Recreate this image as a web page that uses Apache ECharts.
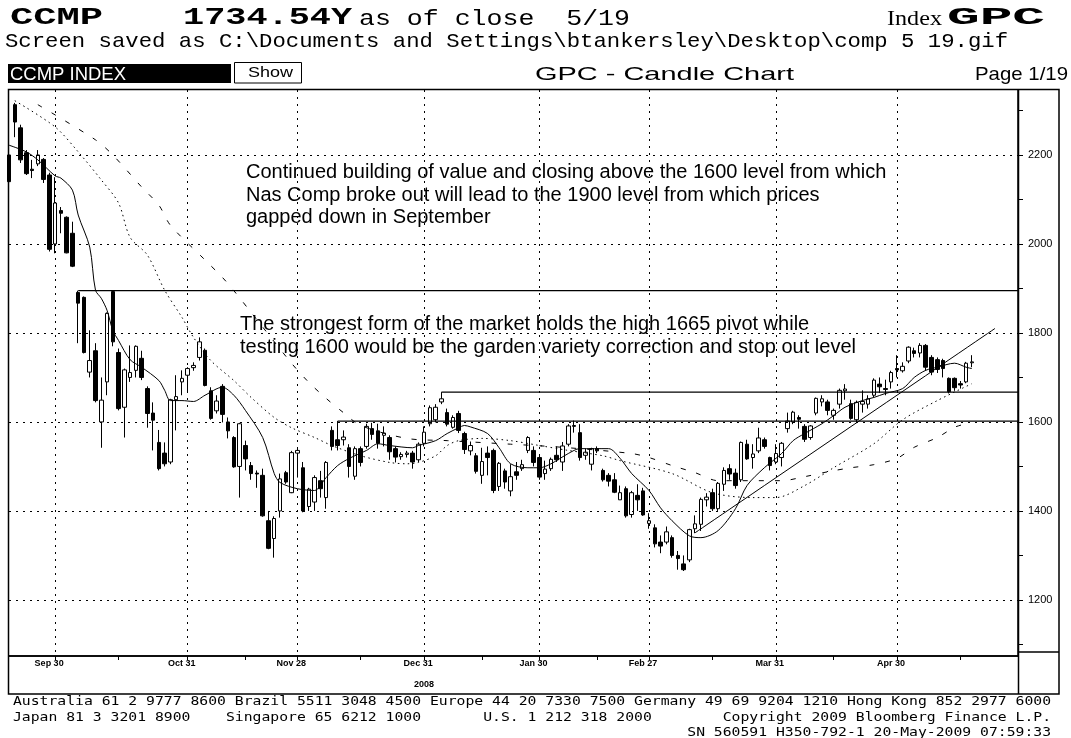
<!DOCTYPE html>
<html><head><meta charset="utf-8">
<script src="https://cdn.jsdelivr.net/npm/echarts@6.0.0/dist/echarts.min.js"></script>
<style>html,body{margin:0;padding:0;background:#fff}#c{width:1071px;height:738px}</style>
</head><body><div id="c"></div>
<script>
// ---------- DATA ----------
const dates = ['09/18','09/19','09/22','09/23','09/24','09/25','09/26','09/29','09/30',
'10/01','10/02','10/03','10/06','10/07','10/08','10/09','10/10','10/13','10/14','10/15','10/16','10/17','10/20','10/21','10/22','10/23','10/24','10/27','10/28','10/29','10/30','10/31',
'11/03','11/04','11/05','11/06','11/07','11/10','11/11','11/12','11/13','11/14','11/17','11/18','11/19','11/20','11/21','11/24','11/25','11/26','11/28',
'12/01','12/02','12/03','12/04','12/05','12/08','12/09','12/10','12/11','12/12','12/15','12/16','12/17','12/18','12/19','12/22','12/23','12/24','12/26','12/29','12/30','12/31',
'01/02','01/05','01/06','01/07','01/08','01/09','01/12','01/13','01/14','01/15','01/16','01/20','01/21','01/22','01/23','01/26','01/27','01/28','01/29','01/30',
'02/02','02/03','02/04','02/05','02/06','02/09','02/10','02/11','02/12','02/13','02/17','02/18','02/19','02/20','02/23','02/24','02/25','02/26','02/27',
'03/02','03/03','03/04','03/05','03/06','03/09','03/10','03/11','03/12','03/13','03/16','03/17','03/18','03/19','03/20','03/23','03/24','03/25','03/26','03/27','03/30','03/31',
'04/01','04/02','04/03','04/06','04/07','04/08','04/09','04/13','04/14','04/15','04/16','04/17','04/20','04/21','04/22','04/23','04/24','04/27','04/28','04/29','04/30',
'05/01','05/04','05/05','05/06','05/07','05/08','05/11','05/12','05/13','05/14','05/15','05/18','05/19'];
const futureDates = ['05/20','05/21','05/22','05/26','05/27','05/28','05/29','06/01'];

const opens = [2200,2313,2261,2205,2168,2180,2190,2155,2000,2075,
2060,2024,1891,1880,1712,1760,1600,1690,1893,1756,
1633,1700,1716,1743,1675,1620,1554,1530,1510,1650,
1690,1705,1722,1745,1761,1670,1625,1680,1600,1565,
1500,1547,1502,1485,1480,1378,1338,1400,1486,1441,
1530,1497,1410,1420,1468,1430,1581,1560,1560,1542,
1478,1540,1545,1585,1580,1570,1565,1540,1522,1527,
1530,1515,1552,1596,1605,1645,1621,1588,1619,1574,
1535,1524,1480,1530,1536,1455,1490,1445,1488,1495,
1536,1536,1520,1484,1495,1525,1510,1550,1590,1576,
1525,1505,1540,1491,1480,1470,1425,1450,1392,1435,
1445,1372,1362,1330,1330,1340,1300,1281,1290,1360,
1370,1425,1441,1405,1460,1495,1485,1470,1550,1520,
1535,1560,1520,1510,1520,1585,1600,1610,1590,1565,
1620,1645,1645,1615,1640,1670,1641,1605,1640,1640,
1660,1685,1675,1690,1720,1715,1737,1760,1755,1772,
1745,1740,1738,1698,1698,1686,1690,1733];
const closes = [2140,2274,2189,2158,2165,2200,2145,1988,2092,2069,
1980,1950,1867,1756,1738,1648,1649,1844,1780,1630,
1717,1711,1770,1700,1619,1604,1495,1506,1650,1657,
1698,1720,1727,1780,1682,1608,1647,1617,1580,1499,
1596,1517,1484,1483,1389,1316,1383,1472,1465,1531,
1536,1400,1449,1475,1450,1509,1545,1547,1566,1500,
1540,1509,1590,1572,1552,1575,1533,1521,1527,1530,
1510,1550,1577,1632,1633,1652,1595,1610,1581,1538,
1547,1489,1511,1520,1446,1507,1465,1477,1480,1504,
1565,1509,1476,1494,1516,1515,1546,1591,1592,1520,
1532,1540,1535,1470,1467,1442,1441,1389,1441,1425,
1391,1378,1326,1321,1353,1300,1293,1268,1358,1371,
1426,1431,1405,1462,1491,1483,1457,1554,1517,1528,
1564,1545,1502,1529,1552,1602,1622,1606,1561,1591,
1653,1652,1626,1626,1671,1674,1608,1644,1646,1652,
1694,1679,1673,1711,1717,1725,1768,1754,1772,1723,
1712,1718,1720,1668,1677,1683,1732,1735];
const lows = [2130,2240,2182,2155,2148,2175,2137,1983,1979,2024,
1979,1948,1777,1754,1700,1644,1542,1660,1770,1626,
1565,1690,1700,1694,1587,1536,1491,1500,1505,1581,
1660,1666,1715,1738,1680,1605,1619,1599,1563,1497,
1430,1491,1470,1452,1387,1314,1295,1385,1461,1440,
1475,1397,1400,1400,1430,1405,1536,1536,1547,1475,
1470,1500,1540,1560,1540,1545,1515,1509,1515,1520,
1495,1510,1545,1590,1599,1640,1590,1585,1575,1528,
1525,1484,1461,1480,1440,1445,1450,1433,1470,1490,
1530,1500,1470,1470,1490,1510,1490,1545,1576,1513,
1515,1491,1530,1466,1455,1440,1425,1385,1385,1400,
1389,1360,1318,1305,1325,1295,1268,1265,1285,1350,
1355,1410,1400,1400,1445,1470,1450,1465,1515,1495,
1530,1540,1491,1505,1500,1576,1595,1585,1555,1560,
1615,1635,1615,1605,1630,1650,1605,1600,1621,1630,
1655,1665,1660,1675,1700,1711,1732,1745,1745,1715,
1705,1710,1700,1664,1670,1675,1687,1723];
const highs = [2205,2317,2268,2211,2189,2211,2193,2160,2150,2083,
2062,2050,1895,1882,1806,1777,1700,1846,1895,1765,
1720,1772,1772,1760,1680,1644,1582,1554,1652,1705,
1716,1723,1734,1790,1765,1678,1660,1685,1610,1568,
1598,1558,1510,1491,1495,1400,1388,1484,1490,1535,
1540,1510,1452,1480,1490,1512,1590,1602,1581,1550,
1545,1545,1596,1598,1596,1590,1570,1545,1532,1535,
1535,1554,1590,1637,1640,1667,1630,1615,1625,1578,
1556,1530,1542,1545,1540,1510,1495,1505,1510,1515,
1568,1545,1525,1513,1520,1545,1555,1595,1603,1595,
1540,1542,1545,1495,1485,1485,1457,1455,1445,1460,
1452,1395,1370,1345,1365,1345,1310,1300,1360,1390,
1430,1440,1450,1465,1498,1505,1495,1556,1560,1550,
1587,1565,1522,1550,1555,1621,1625,1615,1595,1593,
1655,1660,1650,1630,1675,1685,1650,1648,1671,1660,
1698,1700,1695,1715,1750,1734,1770,1767,1777,1775,
1750,1745,1742,1700,1700,1692,1735,1750];

// moving averages: [day index, value]
const maShort = [[0,2222],[3,2207],[5,2189],[8,2153],[9,2148],[11,2121],[12,2065],[14,1993],[15,1896],[16,1878],[17,1851],[18,1806],[19,1783],[21,1740],[23,1723],[26,1693],[27,1671],[28,1648],[30,1648],[32,1646],[34,1660],[37,1678],[39,1660],[41,1626],[44,1565],[46,1484],[47,1464],[50,1450],[53,1446],[55,1475],[57,1502],[59,1518],[62,1536],[64,1551],[66,1547],[70,1542],[71,1547],[74,1558],[76,1574],[78,1587],[79,1592],[80,1589],[83,1574],[85,1542],[87,1506],[90,1497],[92,1497],[94,1506],[97,1529],[99,1540],[104,1540],[106,1518],[108,1484],[111,1446],[113,1407],[115,1378],[118,1344],[120,1340],[123,1356],[126,1405],[128,1457],[131,1497],[134,1529],[136,1558],[138,1574],[141,1596],[143,1614],[145,1633],[148,1648],[150,1655],[152,1664],[155,1675],[157,1700],[159,1716],[161,1723],[164,1732],[166,1723],[167,1720]];
const maMid = [[1,2322],[8,2263],[12,2207],[16,2144],[19,2092],[21,2015],[24,1975],[27,1896],[30,1835],[32,1790],[35,1738],[39,1693],[42,1655],[46,1610],[49,1587],[53,1565],[56,1547],[61,1524],[66,1509],[69,1506],[71,1509],[74,1524],[76,1547],[78,1558],[82,1563],[87,1558],[92,1547],[97,1536],[103,1524],[106,1513],[115,1484],[122,1441],[129,1430],[133,1430],[138,1457],[143,1497],[150,1551],[155,1605],[161,1648],[167,1686]];
const maLong = [[5,2313],[15,2234],[18,2200],[23,2128],[26,2087],[28,2042],[34,1964],[37,1925],[39,1895],[42,1846],[49,1732],[52,1689],[55,1653],[58,1621],[61,1592],[69,1563],[76,1558],[87,1550],[96,1543],[108,1529],[111,1520],[115,1502],[119,1486],[123,1468],[134,1468],[138,1477],[142,1488],[146,1497],[150,1504],[154,1518],[157,1543],[161,1565],[164,1588],[166,1596]];

// drawn support/resistance levels and trend line
const levelValues = [1895, 1667, 1602];
const levelStartIdx = [12, 75, 57];
const trendIdx = [119, 171];
const trendVals = [1351, 1810];

// axis ticks
const yTickLabels = [1200,1400,1600,1800,2000,2200];
const yMinorTicks = [1100,1200,1300,1400,1500,1600,1700,1800,1900,2000,2100,2200,2300];
const xMajorIdx = [8,31,50,72,92,111,133,154];
const xMajorText = ['Sep 30','Oct 31','Nov 28','Dec 31','Jan 30','Feb 27','Mar 31','Apr 30'];
const xMinorIdx = [19,41,61,82,102,122,143,165];

// ---------- BUILD ----------
const categories = dates.concat(futureDates);
const lastIdx = categories.length - 1;
const labelMap = new Map(xMajorIdx.map((k, j) => [k, xMajorText[j]]));
const tickSet = new Set(xMajorIdx.concat(xMinorIdx));
const candleData = dates.map((d, i) => [opens[i], closes[i], lows[i], highs[i]]);

const mc = document.createElement('canvas').getContext('2d');
function fit(text, font, w) { mc.font = font; return w / mc.measureText(text).width; }
function txt(text, left, baseline, font, width, fill) {
  const fs = parseFloat(font.match(/([\d.]+)px/)[1]);
  return { type: 'text', x: left, y: baseline - 0.32 * fs, scaleX: width ? fit(text, font, width) : 1, silent: true, z: 100,
    style: { text: text, x: 0, y: 0, font: font, fill: fill || '#000', align: 'left', verticalAlign: 'middle' } };
}
const MONO = '"Liberation Mono", "DejaVu Sans Mono", monospace';
const SANS = '"Liberation Sans", Arial, sans-serif';
const FOOT = '"DejaVu Sans Mono", "Liberation Mono", monospace';

const annFs = 18 * fit('testing 1600 would be the garden variety correction and stop out level', '18px ' + SANS, 616);
const annFont = annFs.toFixed(2) + 'px ' + SANS;
const footFont = '13px ' + FOOT;
const foot1 = 'Australia 61 2 9777 8600 Brazil 5511 3048 4500 Europe 44 20 7330 7500 Germany 49 69 9204 1210 Hong Kong 852 2977 6000';
const foot2 = 'Japan 81 3 3201 8900    Singapore 65 6212 1000       U.S. 1 212 318 2000        Copyright 2009 Bloomberg Finance L.P.';
const foot3 = '                                                                            SN 560591 H350-792-1 20-May-2009 07:59:33';
const footScale = fit(foot1, footFont, 1038);

function line(x1, y1, x2, y2, w) {
  return { type: 'line', silent: true, z: 90, shape: { x1, y1, x2, y2 }, style: { stroke: '#000', lineWidth: w || 1.5 } };
}
const ft = (t, b) => { const o = txt(t, 13, b, footFont); o.scaleX = footScale; return o; };

const graphics = [
  // header
  txt('CCMP', 10, 26, 'bold 24px ' + MONO, 93),
  txt('1734.54Y', 183, 26, 'bold 24px ' + MONO, 169),
  txt('as of close  5/19', 359, 26, '22px ' + MONO, 271),
  txt('Index', 887, 26, '22px "Liberation Serif", serif', 55),
  txt('GPC', 947, 26, 'bold 24px ' + MONO, 98),
  txt('Screen saved as C:\\Documents and Settings\\btankersley\\Desktop\\comp 5 19.gif', 5, 48.5, '21px ' + MONO, 1003),
  { type: 'rect', silent: true, z: 90, shape: { x: 8, y: 64, width: 223, height: 19 }, style: { fill: '#000' } },
  txt('CCMP INDEX', 10, 81, '19px ' + SANS, 116, '#fff'),
  { type: 'rect', silent: true, z: 90, shape: { x: 234.5, y: 62.5, width: 67, height: 20.5 }, style: { fill: '#fff', stroke: '#000', lineWidth: 1 } },
  txt('Show', 248, 77.6, '15px ' + SANS, 45),
  txt('GPC - Candle Chart', 535, 81, '19px ' + SANS, 259),
  txt('Page 1/19', 975, 81, '19px ' + SANS, 93),
  // frame
  { type: 'rect', silent: true, z: 90, shape: { x: 8.5, y: 89.5, width: 1050.5, height: 604.5 }, style: { fill: null, stroke: '#000', lineWidth: 1.5 } },
  line(1018.5, 89.5, 1018.5, 694),
  line(8.5, 656, 1018.5, 656),
  line(1018.5, 652, 1059, 652),
  txt('2008', 414, 687, 'bold 9px ' + SANS, 20),
  // annotations
  txt('Continued building of value and closing above the 1600 level from which', 246, 179.3, annFont),
  txt('Nas Comp broke out will lead to the 1900 level from which prices', 246, 201.7, annFont),
  txt('gapped down in September', 246, 223.5, annFont),
  txt('The strongest form of the market holds the high 1665 pivot while', 240, 330.7, annFont),
  txt('testing 1600 would be the garden variety correction and stop out level', 240, 354, annFont),
  // footer
  ft(foot1, 706), ft(foot2, 721.5), ft(foot3, 736.5)
];

const lineSeries = (data, type, z) => ({
  type: 'line', data: data, showSymbol: false, symbol: 'none', smooth: 0.3, silent: true, z: z || 4,
  lineStyle: { color: '#000', width: 1, type: type }
});

const series = [
  {
    type: 'candlestick', data: candleData, barWidth: 4, z: 3, silent: true,
    itemStyle: { color: '#fff', color0: '#000', borderColor: '#000', borderColor0: '#000', borderWidth: 1 },
    markLine: {
      silent: true, symbol: ['none', 'none'], label: { show: false }, animation: false,
      lineStyle: { color: '#000', type: [2, 5], width: 1 },
      data: yTickLabels.map(v => ({ yAxis: v }))
    }
  },
  lineSeries(maShort, 'solid'),
  lineSeries(maMid, [1.5, 3.5]),
  lineSeries(maLong, [5, 11]),
  lineSeries([[trendIdx[0], trendVals[0]], [trendIdx[1], trendVals[1]]], 'solid', 5)
].concat(levelValues.map((v, j) => ({
  type: 'line', data: [[levelStartIdx[j], v], [lastIdx, v]], showSymbol: false, symbol: 'none', silent: true, z: 5,
  lineStyle: { color: '#000', width: 1.3 }
})));

const option = {
  animation: false,
  backgroundColor: '#fff',
  grid: { left: 9, top: 90, width: 1009, height: 566 },
  xAxis: {
    type: 'category', data: categories, boundaryGap: false,
    axisLine: { show: true, lineStyle: { color: '#000', width: 1.5 } },
    axisTick: { show: true, interval: (i) => tickSet.has(i), length: 4, lineStyle: { color: '#000' } },
    axisLabel: { interval: (i) => labelMap.has(i), formatter: (v, i) => labelMap.get(i) || '', fontSize: 9, fontWeight: 'bold',
      fontFamily: 'Liberation Sans', color: '#000', margin: 3, padding: [0, 12, 0, 0] },
    splitLine: { show: true, interval: (i) => labelMap.has(i), lineStyle: { color: '#000', type: [2, 5], width: 1 } }
  },
  yAxis: {
    type: 'value', position: 'right', min: 1074, max: 2346, splitNumber: 6, scale: true,
    axisLine: { show: true, lineStyle: { color: '#000', width: 1.5 } },
    axisTick: { show: true, customValues: yMinorTicks, length: 5, lineStyle: { color: '#000' } },
    axisLabel: { customValues: yTickLabels, formatter: (v) => String(v), margin: 10, fontSize: 11, fontFamily: 'Liberation Sans', color: '#000' },
    splitLine: { show: false }
  },
  series: series,
  graphic: graphics
};

const chart = echarts.init(document.getElementById('c'), null, { renderer: 'canvas' });
chart.setOption(option);
</script>
</body></html>
